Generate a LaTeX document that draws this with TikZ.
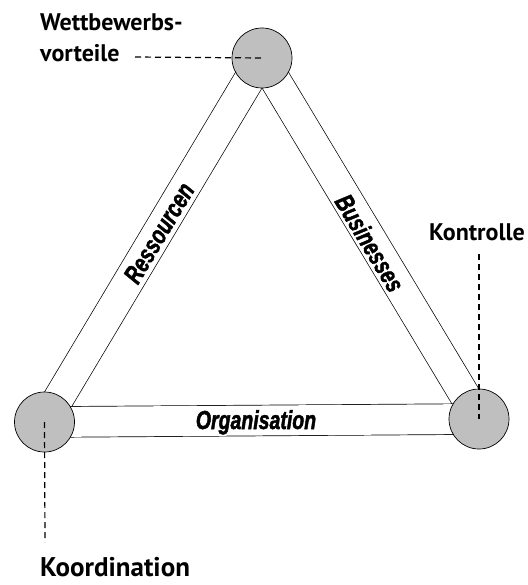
\documentclass[tikz,border=0pt]{standalone}
\usepackage{fontspec}
\setmainfont{PT Sans}
\newfontface\bandface{Liberation Sans Bold Italic}[FakeBold=2]
\begin{document}
\begin{tikzpicture}[x=1pt,y=-1pt,
  hub/.style={circle,draw=black,fill=black!25,line width=0.7pt,minimum size=60pt,inner sep=0pt},
  band/.style={draw=black,line width=0.7pt,double=white,double distance=30pt},
  lbl/.style={font=\fontsize{24}{31}\selectfont\bfseries,inner sep=0pt},
  bandlbl/.style={font=\bandface\fontsize{26}{28}\selectfont,xscale=0.75,inner sep=0pt},
  lead/.style={draw=black,line width=1.2pt,dash pattern=on 6pt off 4pt}]
\useasboundingbox (0,0) rectangle (527,585);
\coordinate (ctop) at (262,58);
\coordinate (cleft) at (44.5,422);
\coordinate (cright) at (479,419);
\draw[band] (ctop) -- (cleft);
\draw[band] (ctop) -- (cright);
\draw[band] (cleft) -- (cright);
\node[hub] (top) at (ctop) {};
\node[hub] (left) at (cleft) {};
\node[hub] (right) at (cright) {};
\node[rotate=59.1,bandlbl] (res) at (159,233) {Ressourcen};
\node[rotate=-58.9,bandlbl] (bus) at (370,243) {Businesses};
\node[bandlbl,anchor=base] (org) at (256,429) {Organisation};
\node[lbl,anchor=base west,align=left] (wett) at (40,62) {Wettbewerbs-\\vorteile};
\node[lbl,anchor=base east] (kon) at (525,240) {Kontrolle};
\node[lbl,anchor=base west,font=\fontsize{27}{31}\selectfont\bfseries] (koo) at (40,576) {Koordination};
\coordinate (w1) at (135,57);
\draw[lead] (w1) -- (top.center);
\coordinate (k1) at (45,542);
\draw[lead] (left.center) -- (k1);
\coordinate (r1) at (479,254);
\draw[lead] (r1) -- (right.center);
\end{tikzpicture}
\end{document}
